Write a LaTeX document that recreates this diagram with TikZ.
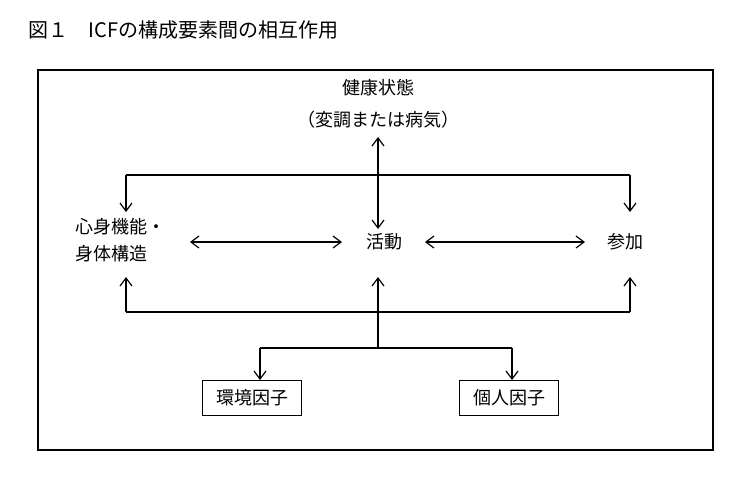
\documentclass[tikz,border=0pt]{standalone}
\usepackage{fontspec}
\newfontfamily\cjk{Noto Sans CJK JP}
\usetikzlibrary{arrows.meta}
\begin{document}
\begin{tikzpicture}[x=0.75pt,y=-0.75pt,
  lbl/.style={font=\cjk\fontsize{13.5}{15}\selectfont,inner sep=1pt},
  box/.style={lbl,draw,line width=1pt,minimum width=74pt,minimum height=26pt,inner sep=2pt},
  ln/.style={line width=0.9pt},
  arr/.style={ln,-{Straight Barb[length=6pt,width=9pt]}},
  darr/.style={ln,{Straight Barb[length=6pt,width=9pt]}-{Straight Barb[length=6pt,width=9pt]}}]
\useasboundingbox (0,0) rectangle (750,479);
\node[font=\cjk\fontsize{15}{17}\selectfont,anchor=west] (title) at (24,30) {図１\quad ICFの構成要素間の相互作用};
\draw[line width=0.8pt] (38,70) rectangle (713,450);
\node[lbl] (h1) at (378,88) {健康状態};
\node[lbl] (h2) at (378,120) {（変調または病気）};
\node[lbl,align=left] (body) at (120,240) {心身機能・\\[5pt]身体構造};
\node[lbl] (act) at (384,242) {活動};
\node[lbl] (par) at (625,242) {参加};
\node[box] (env) at (252,398) {環境因子};
\node[box] (per) at (509,398) {個人因子};
\coordinate (tL) at (126,175); \coordinate (tR) at (630,175);
\coordinate (bL) at (126,312); \coordinate (bR) at (630,312); \coordinate (bM) at (378,312);
\coordinate (sM) at (378,348); \coordinate (sL) at (260,348); \coordinate (sR) at (512,348);
\draw[darr] (378,137) -- (378,229);
\draw[ln] (tL) -- (tR);
\draw[arr] (tL) -- (126,212);
\draw[arr] (tR) -- (630,212);
\draw[darr] (190,242) -- (342,242);
\draw[darr] (425,242) -- (585,242);
\draw[ln] (bL) -- (bR);
\draw[arr] (bL) -- (126,277);
\draw[arr] (bR) -- (630,277);
\draw[arr] (sM) -- (378,277);
\draw[ln] (sL) -- (sR);
\draw[arr] (sL) -- (env.north -| sL);
\draw[arr] (sR) -- (per.north -| sR);
\end{tikzpicture}
\end{document}
